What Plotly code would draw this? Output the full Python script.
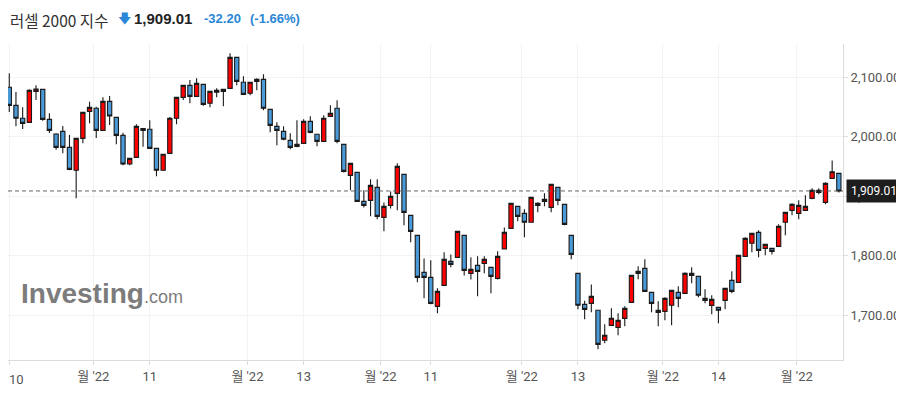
import plotly.graph_objects as go

# ---- data ----
opens = [2083.2, 2052.9, 2031.1, 2024.3, 2076.4, 2079.8, 2029.4, 2004.7, 2009.2, 1982.3,
         1943.7, 1997.4, 2042.8, 2047.9, 2010.9, 2059.6, 2032.7, 2002.5, 1954.3, 1965.5,
         2013.7, 2012.6, 1980.6, 1943.7, 1972.2, 2031.1, 2066.3, 2086.5, 2068.0, 2088.2,
         2056.3, 2074.8, 2079.8, 2081.5, 2133.6, 2091.6, 2073.1, 2093.2, 2096.6, 2046.2,
         2017.6, 2009.2, 1994.1, 1984.0, 1989.0, 2026.0, 2004.2, 1992.4, 2034.4, 2047.9,
         1987.3, 1935.2, 1940.2, 1891.5, 1893.2, 1915.0, 1864.6, 1884.8, 1905.0, 1936.9,
         1868.0, 1834.4, 1772.2, 1763.8, 1715.1, 1750.3, 1790.7, 1797.4, 1834.4, 1770.5,
         1784.0, 1787.3, 1780.6, 1762.1, 1811.4, 1846.2, 1883.1, 1871.4, 1856.3, 1888.2,
         1894.9, 1881.5, 1915.1, 1886.5, 1834.4, 1770.5, 1718.4, 1720.1, 1708.4, 1658.0,
         1683.1, 1679.8, 1694.9, 1721.8, 1773.9, 1778.9, 1738.6, 1705.0, 1706.7, 1716.8,
         1738.6, 1736.9, 1767.2, 1765.5, 1728.5, 1716.7, 1713.4, 1725.1, 1758.8, 1755.4,
         1799.1, 1821.0, 1839.4, 1812.5, 1812.5, 1815.9, 1856.3, 1876.4, 1871.4, 1876.4,
         1896.6, 1910.0, 1889.9, 1930.2, 1938.6]
highs = [2106.7, 2075.3, 2049.5, 2079.8, 2086.5, 2080.0, 2039.5, 2005.8, 2018.2, 2003.0,
         1997.4, 2041.1, 2059.1, 2050.5, 2066.3, 2068.6, 2032.7, 2007.0, 1963.8, 2021.0,
         2013.7, 2027.7, 1980.6, 1970.6, 2033.3, 2066.3, 2086.5, 2095.5, 2098.3, 2088.2,
         2076.4, 2081.5, 2079.8, 2140.3, 2133.6, 2101.6, 2091.6, 2098.3, 2105.0, 2046.2,
         2024.3, 2017.6, 2005.8, 2027.7, 2029.4, 2034.4, 2004.2, 2036.1, 2052.9, 2061.3,
         1987.3, 1955.4, 1940.2, 1910.0, 1928.5, 1928.5, 1889.8, 1908.3, 1955.4, 1936.9,
         1868.0, 1834.4, 1795.7, 1792.4, 1745.3, 1805.8, 1802.4, 1841.1, 1834.4, 1797.4,
         1799.1, 1799.1, 1780.6, 1807.5, 1847.8, 1888.2, 1883.1, 1878.1, 1898.3, 1889.9,
         1905.0, 1920.1, 1915.1, 1886.5, 1834.4, 1770.5, 1724.6, 1752.0, 1708.4, 1684.8,
         1711.7, 1703.3, 1715.1, 1767.2, 1782.3, 1794.1, 1738.6, 1723.5, 1730.2, 1742.0,
         1748.7, 1772.2, 1780.6, 1765.5, 1743.6, 1733.6, 1713.4, 1745.3, 1773.9, 1800.8,
         1831.0, 1837.7, 1842.8, 1819.3, 1812.5, 1852.9, 1873.0, 1888.2, 1893.2, 1901.6,
         1913.4, 1913.4, 1923.5, 1960.4, 1938.6]
lows = [2041.7, 2017.6, 2013.1, 2024.0, 2061.9, 2027.1, 2006.4, 1978.4, 1972.2, 1943.7,
        1896.6, 1989.0, 2022.6, 1998.0, 2010.9, 2019.9, 1987.4, 1952.1, 1952.1, 1965.5,
        1983.4, 1980.6, 1933.6, 1943.7, 1972.2, 2021.0, 2061.9, 2056.3, 2068.0, 2052.3,
        2049.5, 2066.3, 2051.2, 2081.5, 2086.5, 2071.4, 2069.7, 2078.1, 2044.5, 2007.5,
        1985.7, 1994.1, 1979.0, 1982.3, 1989.0, 2005.8, 1984.0, 1992.4, 2034.4, 1989.0,
        1940.2, 1910.0, 1891.5, 1881.4, 1866.3, 1861.3, 1841.1, 1879.7, 1876.4, 1851.2,
        1822.6, 1755.4, 1728.5, 1718.4, 1703.3, 1750.3, 1780.6, 1797.4, 1767.1, 1760.4,
        1731.9, 1770.5, 1736.9, 1760.4, 1811.4, 1846.2, 1857.9, 1831.0, 1856.3, 1873.1,
        1883.1, 1873.1, 1884.8, 1851.2, 1794.1, 1710.0, 1693.2, 1705.0, 1642.8, 1652.9,
        1683.1, 1666.4, 1681.5, 1721.8, 1760.5, 1740.3, 1705.0, 1681.5, 1691.5, 1683.1,
        1713.4, 1736.9, 1753.7, 1730.2, 1720.1, 1701.6, 1686.5, 1710.0, 1736.9, 1755.4,
        1799.1, 1805.8, 1797.4, 1800.8, 1802.4, 1815.9, 1834.4, 1868.0, 1861.3, 1876.4,
        1894.9, 1903.3, 1886.5, 1930.2, 1906.6]
closes = [2052.9, 2031.1, 2022.6, 2078.1, 2080.4, 2029.4, 2010.9, 1982.3, 1982.3, 1945.3,
          1997.4, 2041.1, 2049.5, 2010.9, 2059.6, 2035.0, 2002.5, 1954.3, 1963.8, 2017.6,
          2010.9, 1980.6, 1943.7, 1970.6, 2031.1, 2066.3, 2086.5, 2068.0, 2089.9, 2054.6,
          2076.4, 2078.1, 2076.4, 2133.6, 2093.2, 2071.4, 2091.6, 2096.6, 2047.9, 2019.3,
          2010.9, 1995.8, 1982.3, 1987.4, 2026.0, 2007.5, 1992.4, 2031.1, 2039.5, 1992.4,
          1941.9, 1955.4, 1891.5, 1884.8, 1918.4, 1866.3, 1883.1, 1899.9, 1950.3, 1873.0,
          1841.1, 1763.8, 1763.8, 1720.1, 1740.3, 1794.1, 1785.6, 1841.1, 1775.6, 1777.2,
          1773.9, 1794.1, 1765.5, 1799.1, 1839.4, 1888.2, 1866.3, 1856.3, 1898.3, 1884.8,
          1891.5, 1920.1, 1893.2, 1852.9, 1802.5, 1716.8, 1710.0, 1731.9, 1651.2, 1666.4,
          1695.0, 1691.5, 1711.7, 1767.2, 1770.5, 1740.3, 1720.1, 1708.4, 1728.5, 1742.0,
          1728.5, 1770.5, 1770.5, 1733.6, 1725.1, 1726.8, 1708.4, 1745.3, 1740.3, 1800.8,
          1829.3, 1837.7, 1809.2, 1819.3, 1807.5, 1849.5, 1873.0, 1886.5, 1884.8, 1883.1,
          1910.0, 1906.6, 1921.8, 1941.21, 1909.01]
idx = list(range(len(closes)))

x_tick_pos = [0, 12.55, 21, 35.6, 44, 55.5, 63, 76.6, 85, 97.7, 106, 117.7]
x_tick_text = ["10", "월 '22", "11", "월 '22", "13", "월 '22", "11", "월 '22", "13", "월 '22", "14", "월 '22"]
y_tick_vals = [1700, 1800, 1900, 2000, 2100]
y_tick_text = ["1,700.00", "1,800.00", "1,900.00", "2,000.00", "2,100.00"]
last_price = 1909.01
title_name = "러셀 2000 지수"
title_price = "1,909.01"
title_change = "-32.20"
title_pct = "(-1.66%)"

RED = "#ff0000"
BLUE = "#4a9ad8"

fig = go.Figure()
fig.add_trace(go.Candlestick(
    x=idx, open=opens, high=highs, low=lows, close=closes,
    increasing=dict(fillcolor=RED, line=dict(color="#1a1a1a", width=1.1)),
    decreasing=dict(fillcolor=BLUE, line=dict(color="#1a1a1a", width=1.1)),
    whiskerwidth=0, hoverinfo="skip", showlegend=False,
))

# the page body adds an 8px offset; figure coordinates = page - 8
OFF = 8
W, H = 896, 391
ML, MR, MT, MB = 0, 61, 36, 39
pw = W - ML - MR
ph = H - MT - MB

def px(x):
    return (x - OFF - ML) / pw

def py(y):
    return (H - MB - (y - OFF)) / ph

fig.add_shape(type="line", xref="paper", yref="y", x0=0, x1=1, y0=last_price, y1=last_price,
              line=dict(color="#666666", width=1, dash="4px,3px"), layer="above")

ann = []
ann.append(dict(xref="paper", yref="paper", x=px(8.5), y=py(8), xanchor="left", yanchor="top",
                text=title_name, showarrow=False, borderpad=0,
                font=dict(family="Noto Sans CJK KR, Noto Sans, sans-serif", size=15.5, color="#333333")))
ann.append(dict(xref="paper", yref="paper", x=px(116), y=py(18), xanchor="left", yanchor="middle",
                text="🡇", showarrow=False,
                font=dict(family="DejaVu Sans", size=13, color="#2a86d6")))
ann.append(dict(xref="paper", yref="paper", x=px(132), y=py(18), xanchor="left", yanchor="middle",
                text="<b>" + title_price + "</b>", showarrow=False,
                font=dict(family="Liberation Sans, Arial", size=15, color="#222222")))
ann.append(dict(xref="paper", yref="paper", x=px(202), y=py(18), xanchor="left", yanchor="middle",
                text="<b>" + title_change + "</b>", showarrow=False,
                font=dict(family="Liberation Sans, Arial", size=13, color="#2a86d6")))
ann.append(dict(xref="paper", yref="paper", x=px(248), y=py(18), xanchor="left", yanchor="middle",
                text="<b>" + title_pct + "</b>", showarrow=False,
                font=dict(family="Liberation Sans, Arial", size=13, color="#2a86d6")))
# first x tick label, at the left edge
ann.append(dict(xref="paper", yref="paper", x=px(8), y=py(379), xanchor="left", yanchor="middle",
                text=x_tick_text[0], showarrow=False, borderpad=0,
                font=dict(family="Roboto, Noto Sans CJK KR", size=13, color="#555555")))
# watermark
ann.append(dict(xref="paper", yref="paper", x=px(19), y=py(293), xanchor="left", yanchor="middle",
                text="<b>Investing</b><span style='font-size:18px'>.com</span>", showarrow=False,
                font=dict(family="Liberation Sans, Arial", size=28, color="#7c7c7c")))
# current price label
ann.append(dict(xref="paper", yref="y", x=1.003, y=last_price, xanchor="left", yanchor="middle",
                text="1,909.01", showarrow=False, bgcolor="#1e1e1e", borderpad=4,
                font=dict(family="Roboto, Liberation Sans", size=12, color="#ffffff")))

fig.update_layout(
    width=W, height=H, margin=dict(l=ML, r=MR, t=MT, b=MB, autoexpand=False),
    paper_bgcolor="#ffffff", plot_bgcolor="#ffffff",
    annotations=ann, showlegend=False,
    boxgap=0.2, boxgroupgap=0.2,
    xaxis=dict(range=[-0.19, 124.62], rangeslider=dict(visible=False),
               tickmode="array", tickvals=x_tick_pos,
               ticktext=[""] + x_tick_text[1:],
               showgrid=True, gridcolor="#f3f3f3", gridwidth=1,
               showline=True, linecolor="#dcdcdc", linewidth=1,
               ticks="outside", ticklen=4, tickcolor="#dcdcdc",
               tickfont=dict(family="Roboto, Noto Sans CJK KR", size=13, color="#555555"),
               zeroline=False, fixedrange=True, automargin=False),
    yaxis=dict(side="right", range=[1624.9, 2156.0],
               tickmode="array", tickvals=y_tick_vals, ticktext=y_tick_text,
               showgrid=True, gridcolor="#f3f3f3", gridwidth=1,
               showline=True, linecolor="#dcdcdc", linewidth=1,
               ticks="outside", ticklen=4, tickcolor="#dcdcdc",
               tickfont=dict(family="Roboto, Liberation Sans", size=13, color="#555555"),
               zeroline=False, fixedrange=True, automargin=False),
)

fig.write_html("out.html")
